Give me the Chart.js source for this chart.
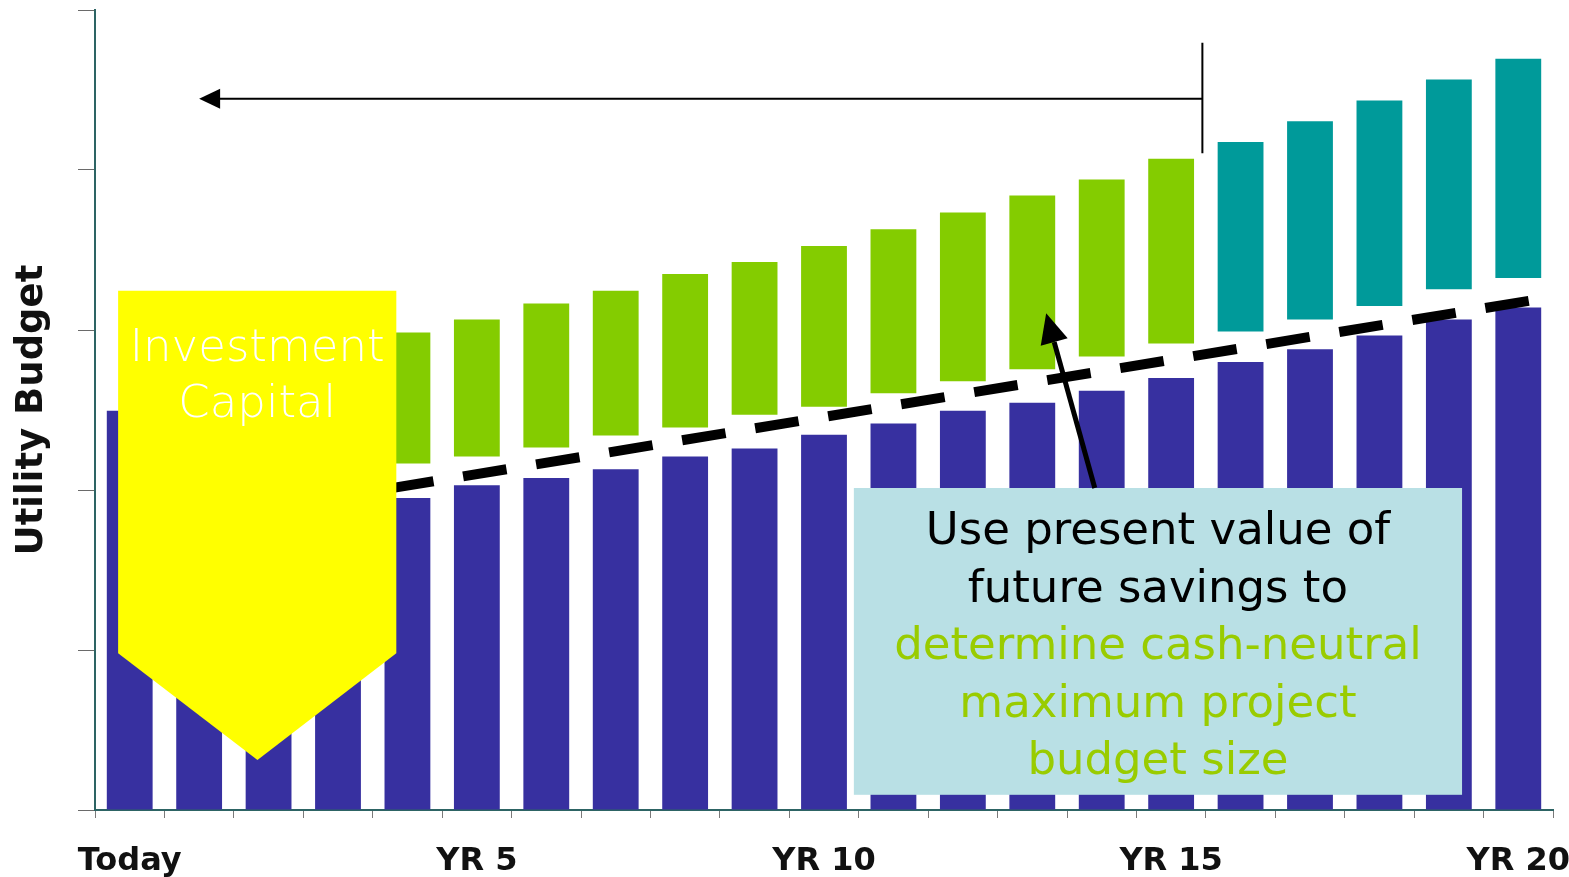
<!DOCTYPE html>
<html>
<head>
<meta charset="utf-8">
<script src="https://cdn.jsdelivr.net/npm/chart.js@4.4.1/dist/chart.umd.min.js"></script>
<style>
  html, body { margin: 0; padding: 0; background: #fff; }
  #wrap { width: 1569px; height: 877px; position: relative; }
</style>
</head>
<body>
<div id="wrap"><canvas id="budgetChart"></canvas></div>
<script>
// categorias: hoje + 20 anos
const categories = ['Today', 'YR 1', 'YR 2', 'YR 3', 'YR 4', 'YR 5', 'YR 6', 'YR 7', 'YR 8', 'YR 9', 'YR 10',
  'YR 11', 'YR 12', 'YR 13', 'YR 14', 'YR 15', 'YR 16', 'YR 17', 'YR 18', 'YR 19', 'YR 20'];
const shownLabels = ['Today', 'YR 5', 'YR 10', 'YR 15', 'YR 20'];

// orcamento de utilidades (barras azuis)
const utilityBudget = [49.9, 37.0, 37.6, 38.3, 39.0, 40.6, 41.5, 42.6, 44.2, 45.2, 46.9,
  48.3, 49.9, 50.9, 52.4, 54.0, 56.0, 57.6, 59.3, 61.3, 62.8];

// economia futura (barras flutuantes verdes / azul-petroleo)
const savingsLow = [null, null, null, null, 43.3, 44.2, 45.3, 46.8, 47.8, 49.4, 50.4,
  52.1, 53.6, 55.1, 56.7, 58.3, 59.8, 61.3, 63.0, 65.1, 66.5];
const savingsHigh = [null, null, null, null, 59.7, 61.3, 63.3, 64.9, 67.0, 68.5, 70.5,
  72.6, 74.7, 76.8, 78.8, 81.4, 83.5, 86.1, 88.7, 91.3, 93.9];
const horizonYear = 15; // depois disso a economia fica fora do horizonte

// linha tracejada "cash-neutral" (indice do ano, valor)
const neutralLineX = [3.75, 20.4];
const neutralLineY = [40.2, 64.0];

const yTicks = [0, 20, 40, 60, 80, 100];

// anotacoes em unidades do grafico (x = indice do ano, y = valor)
const notes = {
  backArrow: { tailX: 15.45, tipX: 1.0, y: 88.9, barTop: 95.9, barBottom: 82.1 },
  upArrow: { x1: 13.9, y1: 40.25, x2: 13.2, y2: 62.1 },
  capital: { left: -0.167, right: 3.84, top: 64.9, shoulder: 19.6, tipX: 1.84, tipY: 6.25 },
  box: { left: 10.43, right: 19.19, top: 40.25, bottom: 1.9 }
};

const overlayPlugin = {
  id: 'overlay',
  afterDatasetsDraw(chart) {
    const ctx = chart.ctx;
    const xs = chart.scales.x2, ys = chart.scales.y;
    const px = v => xs.getPixelForValue(v);
    const py = v => ys.getPixelForValue(v);
    ctx.save();

    // seta amarela "Investment Capital"
    const c = notes.capital;
    ctx.fillStyle = '#ffff00';
    ctx.beginPath();
    ctx.moveTo(px(c.left), py(c.top));
    ctx.lineTo(px(c.right), py(c.top));
    ctx.lineTo(px(c.right), py(c.shoulder));
    ctx.lineTo(px(c.tipX), py(c.tipY));
    ctx.lineTo(px(c.left), py(c.shoulder));
    ctx.closePath();
    ctx.fill();
    ctx.fillStyle = '#ffffff';
    ctx.font = '200 45px "DejaVu Sans", sans-serif';
    ctx.textAlign = 'center';
    ctx.textBaseline = 'alphabetic';
    const cx = (px(c.left) + px(c.right)) / 2;
    ctx.fillText('Investment', cx, py(c.top) + 70);
    ctx.fillText('Capital', cx, py(c.top) + 126);

    // caixa de texto
    const b = notes.box;
    const bl = px(b.left), br = px(b.right), bt = py(b.top), bb = py(b.bottom);
    ctx.fillStyle = '#b9e0e5';
    ctx.fillRect(bl, bt, br - bl, bb - bt);
    const lines = [
      ['Use present value of', '#000000'],
      ['future savings to', '#000000'],
      ['determine cash-neutral', '#99cc00'],
      ['maximum project', '#99cc00'],
      ['budget size', '#99cc00']
    ];
    ctx.font = '45px "DejaVu Sans", sans-serif';
    ctx.textBaseline = 'middle';
    const lh = 57.5;
    const midY = (bt + bb) / 2 - lh * (lines.length - 1) / 2 + 6;
    lines.forEach(([t, col], i) => {
      ctx.fillStyle = col;
      ctx.fillText(t, (bl + br) / 2, midY + i * lh);
    });

    // seta horizontal para a esquerda
    const a = notes.backArrow;
    ctx.strokeStyle = '#000';
    ctx.fillStyle = '#000';
    ctx.lineWidth = 2;
    ctx.beginPath();
    ctx.moveTo(px(a.tailX), py(a.y));
    ctx.lineTo(px(a.tipX) + 18, py(a.y));
    ctx.moveTo(px(a.tailX), py(a.barTop));
    ctx.lineTo(px(a.tailX), py(a.barBottom));
    ctx.stroke();
    ctx.beginPath();
    ctx.moveTo(px(a.tipX), py(a.y));
    ctx.lineTo(px(a.tipX) + 21, py(a.y) - 10);
    ctx.lineTo(px(a.tipX) + 21, py(a.y) + 10);
    ctx.closePath();
    ctx.fill();

    // seta para cima saindo da caixa
    const u = notes.upArrow;
    const x1 = px(u.x1), y1 = py(u.y1), x2 = px(u.x2), y2 = py(u.y2);
    const ang = Math.atan2(y2 - y1, x2 - x1);
    const head = 30, half = 14;
    const bx = x2 - head * Math.cos(ang), by = y2 - head * Math.sin(ang);
    ctx.lineWidth = 5;
    ctx.beginPath();
    ctx.moveTo(x1, y1);
    ctx.lineTo(bx, by);
    ctx.stroke();
    ctx.beginPath();
    ctx.moveTo(x2, y2);
    ctx.lineTo(bx + half * Math.sin(ang), by - half * Math.cos(ang));
    ctx.lineTo(bx - half * Math.sin(ang), by + half * Math.cos(ang));
    ctx.closePath();
    ctx.fill();

    ctx.restore();
  }
};

const canvas = document.getElementById('budgetChart').getContext('2d');
new Chart(canvas, {
  data: {
    labels: categories,
    datasets: [
      {
        type: 'line',
        xAxisID: 'x2',
        data: neutralLineX.map((x, i) => ({ x: x, y: neutralLineY[i] })),
        borderColor: '#000',
        borderWidth: 10,
        borderDash: [44, 30],
        borderCapStyle: 'butt',
        pointRadius: 0,
        order: 0
      },
      {
        type: 'bar',
        data: savingsLow.map((lo, i) => lo === null ? null : [lo, savingsHigh[i]]),
        backgroundColor: ctx => ctx.dataIndex > horizonYear ? '#009a9a' : '#84cc00',
        barPercentage: 0.66,
        categoryPercentage: 1,
        grouped: false,
        order: 1
      },
      {
        type: 'bar',
        data: utilityBudget,
        backgroundColor: '#3730a0',
        barPercentage: 0.66,
        categoryPercentage: 1,
        grouped: false,
        order: 2
      }
    ]
  },
  options: {
    responsive: true,
    maintainAspectRatio: false,
    animation: false,
    layout: { padding: { top: 10, right: 16, left: 0, bottom: 0 } },
    plugins: { legend: { display: false }, tooltip: { enabled: false } },
    scales: {
      x: {
        type: 'category',
        grid: { drawOnChartArea: false, tickLength: 8, color: '#7a7a7a', offset: true },
        border: { color: '#2d6464', width: 2 },
        ticks: {
          autoSkip: false,
          maxRotation: 0,
          padding: 24,
          color: '#111',
          font: { family: 'DejaVu Sans', weight: 'bold', size: 32 },
          callback: (v, i) => shownLabels.includes(categories[i]) ? categories[i] : ''
        },
        afterFit: s => { s.height = 67; s.paddingLeft = 0; s.paddingRight = 0; }
      },
      x2: { type: 'linear', display: false, min: -0.5, max: categories.length - 0.5 },
      y: {
        min: yTicks[0],
        max: yTicks[yTicks.length - 1],
        afterBuildTicks: s => { s.ticks = yTicks.map(v => ({ value: v })); },
        grid: { drawOnChartArea: false, tickLength: 17, color: '#6a6a6a' },
        border: { color: '#2d6464', width: 2 },
        ticks: { callback: () => '' },
        title: {
          display: true,
          text: 'Utility Budget',
          color: '#111',
          font: { family: 'DejaVu Sans', weight: 'bold', size: 37 },
          padding: { top: 10, bottom: 0 }
        },
        afterFit: s => { s.width = 95; s.paddingTop = 0; s.paddingBottom = 0; }
      }
    }
  },
  plugins: [overlayPlugin]
});
</script>
</body>
</html>
